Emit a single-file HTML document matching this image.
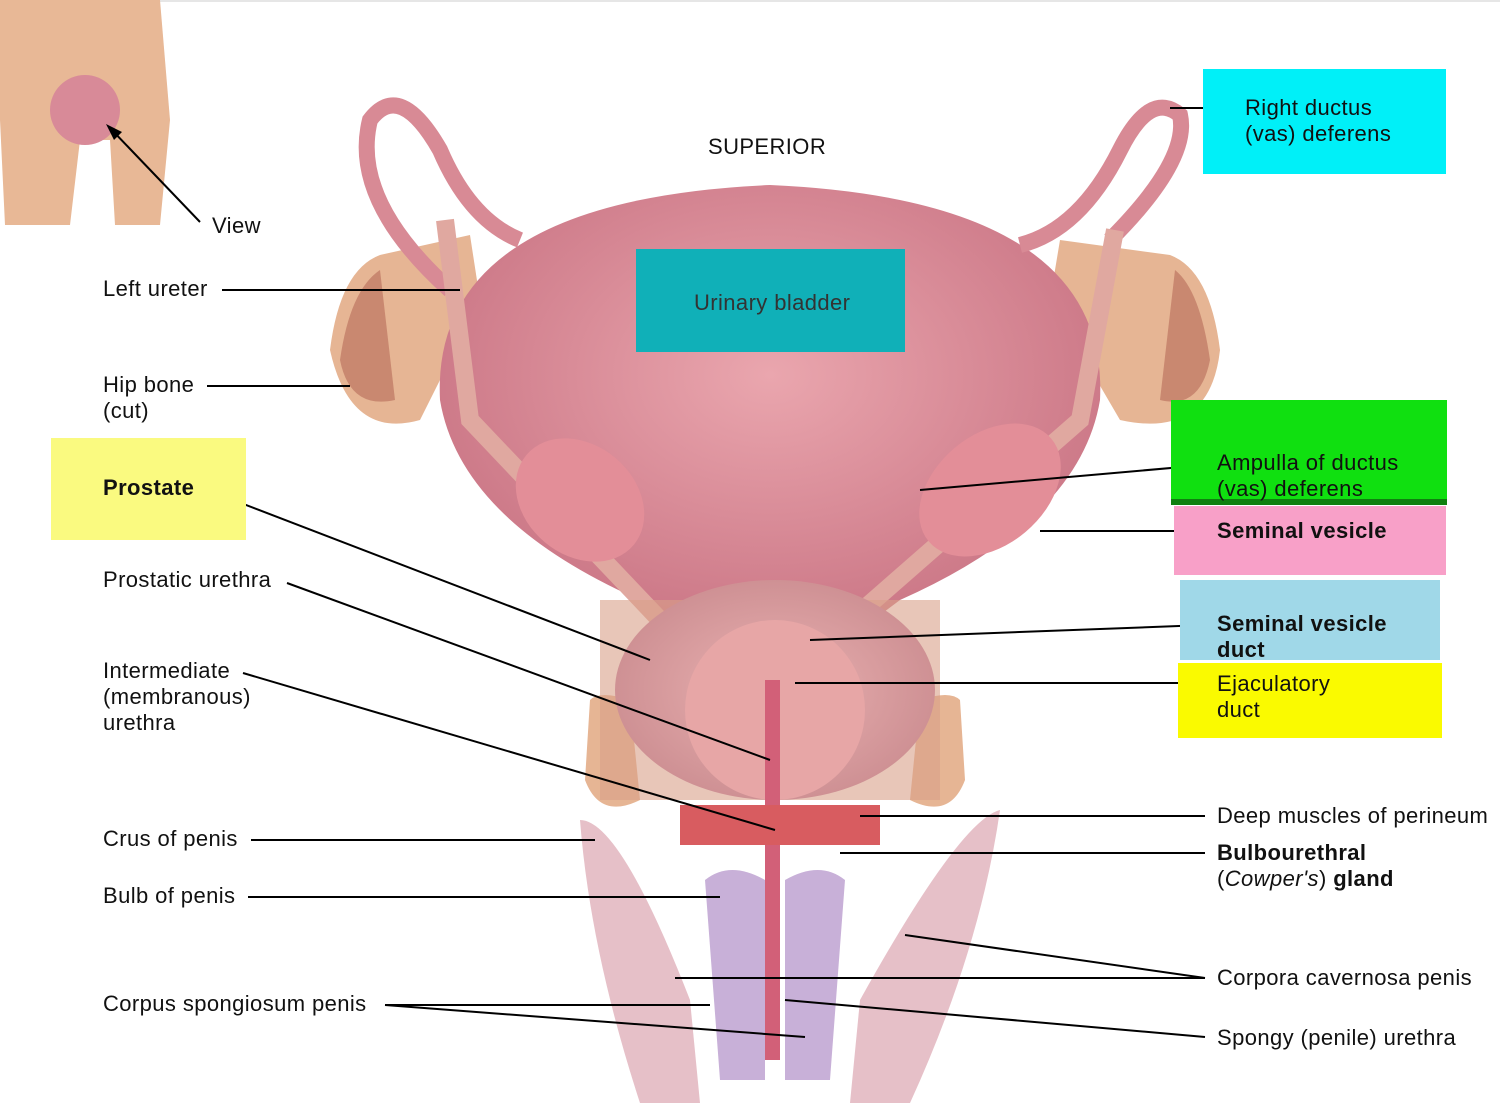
<!DOCTYPE html>
<html><head><meta charset="utf-8"><style>
body{margin:0;width:1500px;height:1103px;background:#fff;overflow:hidden;position:relative;font-family:"Liberation Sans",sans-serif;}
.t{position:absolute;font-size:22px;letter-spacing:0.4px;color:#111;line-height:26px;white-space:nowrap}
.b{font-weight:bold}
.box{position:absolute}
</style></head><body>
<svg width="1500" height="1103" style="position:absolute;left:0;top:0">
<defs>
<radialGradient id="bl" cx="50%" cy="40%" r="60%"><stop offset="0" stop-color="#eaa6ae"/><stop offset="1" stop-color="#c87282"/></radialGradient>
<radialGradient id="pr" cx="50%" cy="50%" r="60%"><stop offset="0" stop-color="#eab2b2"/><stop offset="1" stop-color="#c98a8e"/></radialGradient>
</defs>
<line x1="0" y1="1" x2="1500" y2="1" stroke="#ccc"/>
<path d="M0 0 H160 L170 120 L160 225 H115 L110 140 H80 L70 225 H5 L0 120Z" fill="#e8b896"/>
<ellipse cx="85" cy="110" rx="35" ry="35" fill="#d88a98"/>
<line x1="200" y1="222" x2="110" y2="128" stroke="#000" stroke-width="2"/>
<polygon points="106,124 122,132 114,140" fill="#000"/>
<path d="M330 350 Q340 270 380 255 L470 235 L480 300 L420 420 Q350 440 330 350Z" fill="#e6b594"/>
<path d="M340 360 Q350 290 380 270 L395 400 Q350 410 340 360Z" fill="#c98870"/>
<path d="M1220 350 Q1210 270 1170 255 L1060 240 L1050 300 L1120 420 Q1210 440 1220 350Z" fill="#e6b594"/>
<path d="M1210 360 Q1200 290 1175 270 L1160 400 Q1200 410 1210 360Z" fill="#c98870"/>
<path d="M590 700 Q600 690 630 700 L640 800 Q600 820 585 780Z" fill="#e6b594"/>
<path d="M960 700 Q950 690 920 700 L910 800 Q950 820 965 780Z" fill="#e6b594"/>
<path d="M440 400 Q430 200 770 185 Q1110 200 1100 400 Q1080 520 900 600 L820 660 H720 L640 600 Q460 520 440 400Z" fill="url(#bl)"/>
<path d="M450 290 Q350 200 370 120 Q400 80 440 150 Q470 220 520 240" fill="none" stroke="#d88a95" stroke-width="16"/>
<path d="M1110 240 Q1190 160 1180 115 Q1150 90 1120 150 Q1080 230 1020 245" fill="none" stroke="#d88a95" stroke-width="16"/>
<path d="M445 220 L470 420 L660 620" fill="none" stroke="#e0a8a0" stroke-width="18"/>
<path d="M1115 230 L1080 420 L840 630" fill="none" stroke="#e0a8a0" stroke-width="18"/>
<ellipse cx="580" cy="500" rx="70" ry="55" transform="rotate(40 580 500)" fill="#e38e98"/>
<ellipse cx="990" cy="490" rx="80" ry="55" transform="rotate(-40 990 490)" fill="#e38e98"/>
<rect x="600" y="600" width="340" height="200" fill="#d8a088" opacity=".6"/>
<ellipse cx="775" cy="690" rx="160" ry="110" fill="url(#pr)"/>
<ellipse cx="775" cy="710" rx="90" ry="90" fill="#e7a6a6"/>
<rect x="765" y="680" width="15" height="380" fill="#d26078"/>
<rect x="680" y="805" width="200" height="40" fill="#d85c60"/>
<path d="M580 820 Q620 820 690 1000 L700 1103 H640 Q590 950 580 820Z" fill="#e6c0c8"/>
<path d="M1000 810 Q960 820 860 1000 L850 1103 H910 Q980 950 1000 810Z" fill="#e6c0c8"/>
<path d="M705 880 Q730 860 765 880 V1080 H720Z" fill="#c8b0d8"/>
<path d="M785 880 Q820 860 845 880 L830 1080 H785Z" fill="#c8b0d8"/>
<g stroke="#000" stroke-width="2" fill="none">
<line x1="222" y1="290" x2="460" y2="290"/>
<line x1="207" y1="386" x2="350" y2="386"/>
<line x1="207" y1="490" x2="650" y2="660"/>
<line x1="287" y1="583" x2="770" y2="760"/>
<line x1="243" y1="673" x2="775" y2="830"/>
<line x1="251" y1="840" x2="595" y2="840"/>
<line x1="248" y1="897" x2="720" y2="897"/>
<line x1="385" y1="1005" x2="710" y2="1005"/>
<line x1="385" y1="1005" x2="805" y2="1037"/>
<line x1="1235" y1="108" x2="1170" y2="108"/>
<line x1="1205" y1="465" x2="920" y2="490"/>
<line x1="1205" y1="531" x2="1040" y2="531"/>
<line x1="1205" y1="625" x2="810" y2="640"/>
<line x1="1205" y1="683" x2="795" y2="683"/>
<line x1="1205" y1="816" x2="860" y2="816"/>
<line x1="1205" y1="853" x2="840" y2="853"/>
<line x1="1205" y1="978" x2="905" y2="935"/>
<line x1="1205" y1="978" x2="675" y2="978"/>
<line x1="1205" y1="1037" x2="785" y2="1000"/>
</g>
</svg>
<div class="box" style="left:1203px;top:69px;width:243px;height:105px;background:#00f0f8"></div>
<div class="box" style="left:636px;top:249px;width:269px;height:103px;background:#10b0b8"></div>
<div class="box" style="left:51px;top:438px;width:195px;height:102px;background:#fafa80"></div>
<div class="box" style="left:1171px;top:400px;width:276px;height:105px;background:#10e010;border-bottom:6px solid #108010;box-sizing:border-box"></div>
<div class="box" style="left:1174px;top:506px;width:272px;height:69px;background:#f8a0c8"></div>
<div class="box" style="left:1180px;top:580px;width:260px;height:80px;background:#a0d8e8"></div>
<div class="box" style="left:1178px;top:663px;width:264px;height:75px;background:#fafa00"></div>
<div class="t" style="left:212px;top:213px">View</div>
<div class="t" style="left:708px;top:134px">SUPERIOR</div>
<div class="t" style="left:694px;top:290px;color:#333">Urinary bladder</div>
<div class="t" style="left:1245px;top:95px">Right ductus<br>(vas) deferens</div>
<div class="t" style="left:103px;top:276px">Left ureter</div>
<div class="t" style="left:103px;top:372px">Hip bone<br>(cut)</div>
<div class="t b" style="left:103px;top:475px">Prostate</div>
<div class="t" style="left:103px;top:567px">Prostatic urethra</div>
<div class="t" style="left:103px;top:658px">Intermediate<br>(membranous)<br>urethra</div>
<div class="t" style="left:103px;top:826px">Crus of penis</div>
<div class="t" style="left:103px;top:883px">Bulb of penis</div>
<div class="t" style="left:103px;top:991px">Corpus spongiosum penis</div>
<div class="t" style="left:1217px;top:450px">Ampulla of ductus<br>(vas) deferens</div>
<div class="t b" style="left:1217px;top:518px">Seminal vesicle</div>
<div class="t b" style="left:1217px;top:611px">Seminal vesicle<br>duct</div>
<div class="t" style="left:1217px;top:671px">Ejaculatory<br>duct</div>
<div class="t" style="left:1217px;top:803px">Deep muscles of perineum</div>
<div class="t" style="left:1217px;top:840px"><b>Bulbourethral</b><br>(<i>Cowper's</i>) <b>gland</b></div>
<div class="t" style="left:1217px;top:965px">Corpora cavernosa penis</div>
<div class="t" style="left:1217px;top:1025px">Spongy (penile) urethra</div>
</body></html>
